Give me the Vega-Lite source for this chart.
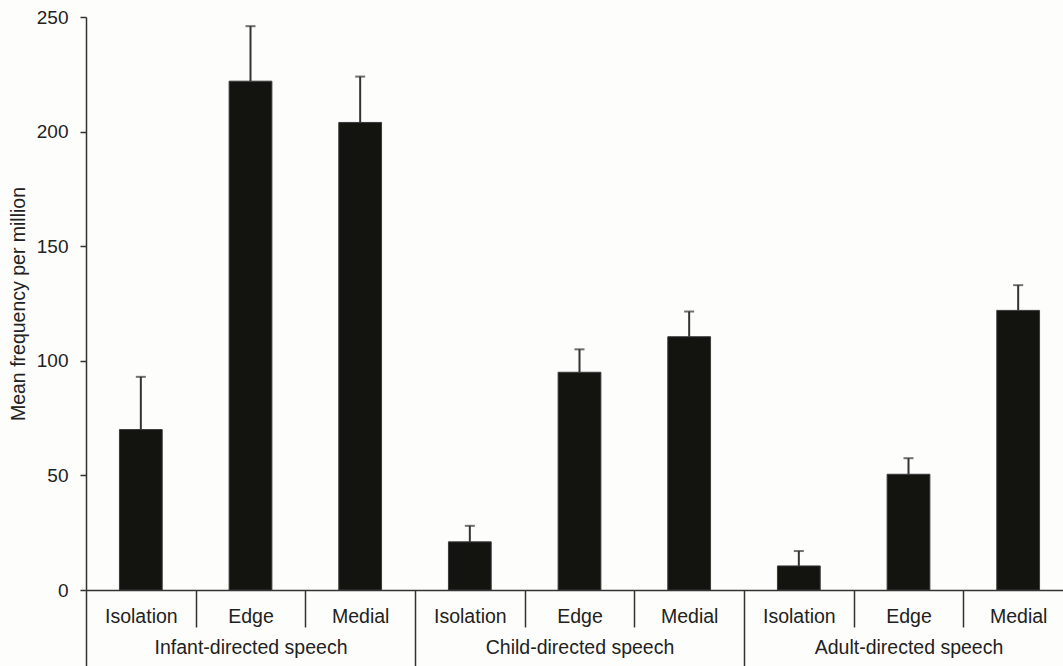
{
  "$schema": "https://vega.github.io/schema/vega-lite/v6.json",
  "width": 977,
  "height": 573,
  "autosize": "none",
  "padding": {"left": 86, "top": 17, "right": 0, "bottom": 76},
  "background": "#fdfdfb",
  "config": {"view": {"stroke": null}, "font": "Liberation Sans"},
  "data": {
    "values": [
      {"group": "Infant-directed speech", "sub": "Isolation", "key": "Infant-directed speech|Isolation", "value": 70, "upper": 93},
      {"group": "Infant-directed speech", "sub": "Edge", "key": "Infant-directed speech|Edge", "value": 222, "upper": 246},
      {"group": "Infant-directed speech", "sub": "Medial", "key": "Infant-directed speech|Medial", "value": 204, "upper": 224},
      {"group": "Child-directed speech", "sub": "Isolation", "key": "Child-directed speech|Isolation", "value": 21, "upper": 28},
      {"group": "Child-directed speech", "sub": "Edge", "key": "Child-directed speech|Edge", "value": 95, "upper": 105},
      {"group": "Child-directed speech", "sub": "Medial", "key": "Child-directed speech|Medial", "value": 110.5, "upper": 121.5},
      {"group": "Adult-directed speech", "sub": "Isolation", "key": "Adult-directed speech|Isolation", "value": 10.5, "upper": 17},
      {"group": "Adult-directed speech", "sub": "Edge", "key": "Adult-directed speech|Edge", "value": 50.5, "upper": 57.5},
      {"group": "Adult-directed speech", "sub": "Medial", "key": "Adult-directed speech|Medial", "value": 122, "upper": 133}
    ]
  },
  "encoding": {
    "x": {
      "field": "key",
      "type": "nominal",
      "sort": null,
      "scale": {"type": "band", "paddingInner": 0, "paddingOuter": 0, "range": [0, 987]},
      "axis": {
        "title": null,
        "labelExpr": "split(datum.value, '|')[1] == 'Edge' ? ['Edge', split(datum.value, '|')[0]] : split(datum.value, '|')[1]",
        "labelAngle": 0,
        "labelFont": "Liberation Sans",
        "labelFontSize": 19.5,
        "labelColor": "#222222",
        "labelLineHeight": 31,
        "labelLimit": 0,
        "labelPadding": {"condition": {"test": "isString(datum.value) && indexof(datum.value, '|Medial') >= 0", "value": -59}, "value": -20},
        "labelOverlap": false,
        "tickBand": "extent",
        "tickSize": {"condition": {"test": "!isString(datum.value) || indexof(datum.value, '|Medial') >= 0", "value": 76}, "value": 37},
        "tickColor": "#333333",
        "tickWidth": 1.5,
        "domainColor": "#333333",
        "domainWidth": 1.5
      }
    }
  },
  "layer": [
    {
      "mark": {"type": "bar", "width": {"band": 0.39}, "color": "#131310", "stroke": "#3a3a3a", "strokeWidth": 1},
      "encoding": {
        "y": {
          "field": "value",
          "type": "quantitative",
          "scale": {"domain": [0, 250], "nice": false},
          "axis": {
            "title": "Mean frequency per million",
            "values": [0, 50, 100, 150, 200, 250],
            "grid": false,
            "tickSize": 6,
            "labelPadding": 12,
            "labelFont": "Liberation Sans",
            "labelFontSize": 19,
            "labelColor": "#222222",
            "titleFont": "Liberation Sans",
            "titleFontSize": 19.5,
            "titleFontWeight": "normal",
            "titleColor": "#222222",
            "titlePadding": 8,
            "domainColor": "#333333",
            "domainWidth": 1.5,
            "tickColor": "#333333",
            "tickWidth": 1.5
          }
        }
      }
    },
    {
      "mark": {"type": "rule", "color": "#333333", "strokeWidth": 2},
      "encoding": {
        "y": {"field": "value", "type": "quantitative", "title": "Mean frequency per million"},
        "y2": {"field": "upper"}
      }
    },
    {
      "mark": {"type": "tick", "color": "#333333", "size": 10, "thickness": 2},
      "encoding": {
        "y": {"field": "upper", "type": "quantitative", "title": "Mean frequency per million"}
      }
    }
  ]
}
